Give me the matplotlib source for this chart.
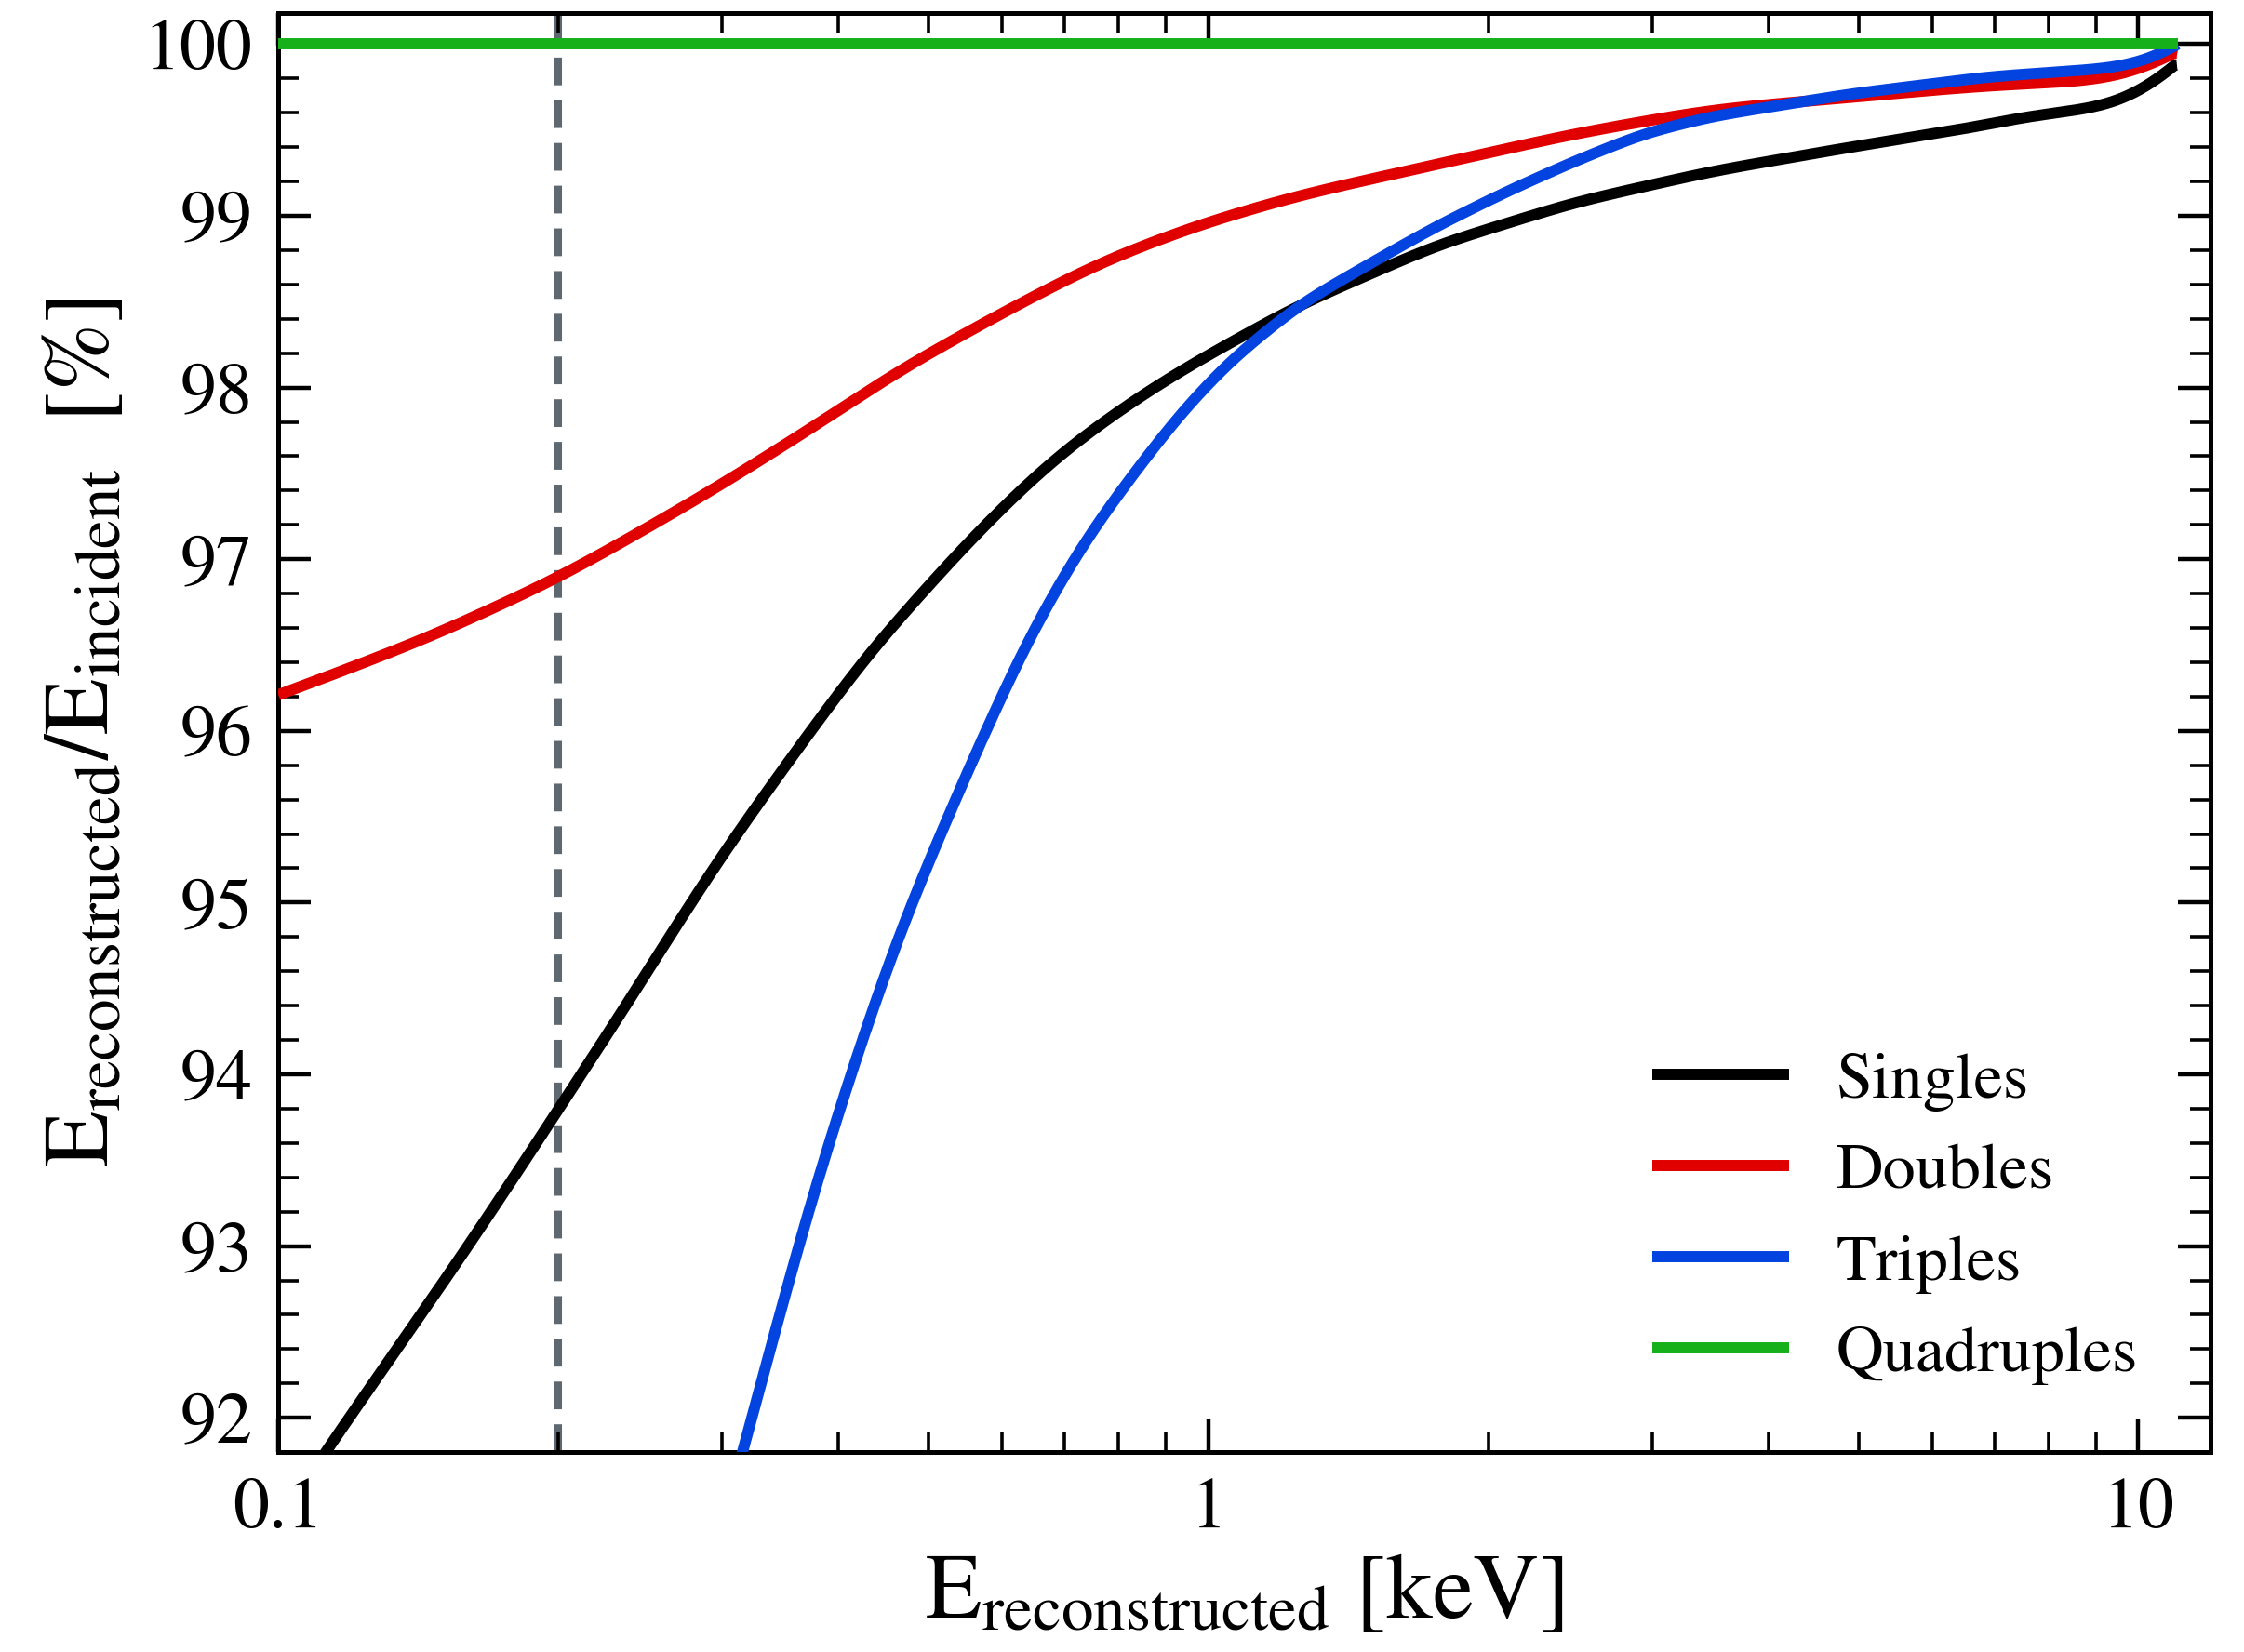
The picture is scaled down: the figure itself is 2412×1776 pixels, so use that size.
import numpy as np
import matplotlib
matplotlib.use("Agg")
import matplotlib.pyplot as plt
from matplotlib.ticker import MultipleLocator, FixedLocator, FixedFormatter, LogLocator, NullFormatter

plt.rcParams['font.family'] = ['STIXGeneral', 'Liberation Serif', 'DejaVu Serif']
plt.rcParams['mathtext.fontset'] = 'stix'

# ---- data ----
singles_x = [0.108, 0.1126, 0.1324, 0.1555, 0.1813, 0.2003, 0.2327, 0.283, 0.31, 0.37, 0.4335,
             0.501, 0.5537, 0.6406, 0.7026, 0.8035, 0.885, 0.977, 1.25, 1.76, 2.48, 3.48, 4.9,
             6.9, 7.36, 9.36, 10.35, 11.0]
singles_y = [91.66, 91.81, 92.355, 92.90, 93.44, 93.80, 94.34, 95.07, 95.39, 95.97, 96.47,
             96.85, 97.11, 97.45, 97.64, 97.87, 98.02, 98.16, 98.48, 98.83, 99.08, 99.26, 99.40,
             99.53, 99.57, 99.64, 99.75, 99.88]

doubles_x = [0.1, 0.12, 0.1475, 0.2, 0.2362, 0.2884, 0.3687, 0.4677, 0.6072, 0.764, 0.977,
             1.25, 1.76, 2.48, 3.48, 4.9, 6.9, 9.36, 10.35, 11.04]
doubles_y = [96.21, 96.37, 96.56, 96.89, 97.11, 97.38, 97.74, 98.11, 98.45, 98.73, 98.95,
             99.12, 99.30, 99.48, 99.62, 99.69, 99.76, 99.79, 99.86, 99.95]

triples_x = [0.312, 0.3548, 0.3701, 0.3877, 0.4074, 0.4285, 0.4519, 0.4786, 0.5453, 0.5843,
             0.6237, 0.6761, 0.7413, 0.8286, 0.9333, 1.057, 1.25, 1.49, 1.76, 2.09, 2.48, 2.94,
             3.48, 4.9, 6.9, 9.36, 10.35, 11.04]
triples_y = [91.70, 92.82, 93.18, 93.54, 93.91, 94.27, 94.63, 94.99, 95.71, 96.07,
             96.41, 96.77, 97.13, 97.49, 97.85, 98.16, 98.48, 98.72, 98.94, 99.14, 99.32, 99.48,
             99.58, 99.71, 99.81, 99.86, 99.91, 100.0]

quad_x = [0.1, 11.04]
quad_y = [100.0, 100.0]

threshold_x = 0.2

series = [
    ("Singles", singles_x, singles_y, "#000000"),
    ("Doubles", doubles_x, doubles_y, "#e00000"),
    ("Triples", triples_x, triples_y, "#0343df"),
    ("Quadruples", quad_x, quad_y, "#15b01a"),
]

y_ticks = [92, 93, 94, 95, 96, 97, 98, 99, 100]
x_ticks = [0.1, 1, 10]
x_ticklabels = ["0.1", "1", "10"]

fig = plt.figure(figsize=(12.06, 8.88), dpi=200)
ax = fig.add_axes([0.124, 0.121, 0.861, 0.871])

ax.axvline(threshold_x, color="#5d6870", lw=2.9, ls=(0, (3.7, 2.0)), zorder=1)

def smooth(xs, ys, step=0.002, sigma=0.03):
    """Linear interpolation of the read points in log10(x), then a Gaussian smoothing."""
    lx = np.log10(np.asarray(xs, float))
    ly = np.asarray(ys, float)
    t = np.arange(lx[0], lx[-1] + step / 2, step)
    yi = np.interp(t, lx, ly)
    npad = int(4 * sigma / step)
    s0 = (ly[1] - ly[0]) / (lx[1] - lx[0])
    s1 = (ly[-1] - ly[-2]) / (lx[-1] - lx[-2])
    left = yi[0] - s0 * step * np.arange(npad, 0, -1)
    right = yi[-1] + s1 * step * np.arange(1, npad + 1)
    ypad = np.concatenate([left, yi, right])
    k = np.arange(-npad, npad + 1) * step
    w = np.exp(-0.5 * (k / sigma) ** 2); w /= w.sum()
    ys_ = np.convolve(ypad, w, mode="same")[npad:npad + len(t)]
    ys_[-1] = ly[-1]
    return 10 ** t, ys_

sigmas = {"Singles": 0.03, "Doubles": 0.04, "Triples": 0.022}

for name, xs, ys, c in series:
    if len(xs) > 2:
        sx, sy = smooth(xs, ys, sigma=sigmas[name])
    else:
        sx, sy = xs, ys
    ax.plot(sx, sy, color=c, lw=4.3, label=name, solid_capstyle='butt', zorder=3)

ax.set_xscale("log")
ax.set_xlim(0.1, 11.95)
ax.set_ylim(91.8, 100.18)

ax.xaxis.set_major_locator(FixedLocator(x_ticks))
ax.xaxis.set_major_formatter(FixedFormatter(x_ticklabels))
ax.xaxis.set_minor_locator(LogLocator(base=10, subs=np.arange(2, 10)))
ax.xaxis.set_minor_formatter(NullFormatter())
ax.yaxis.set_major_locator(FixedLocator(y_ticks))
ax.yaxis.set_major_formatter(FixedFormatter([str(v) for v in y_ticks]))
ax.yaxis.set_minor_locator(MultipleLocator(0.2))

ax.tick_params(which="both", direction="in", top=True, right=True)
ax.tick_params(which="major", length=12.5, width=1.6, labelsize=28, pad=10)
ax.tick_params(which="minor", length=8, width=1.3)
for sp in ax.spines.values():
    sp.set_linewidth(1.8)

ax.set_xlabel(r"$\mathrm{E_{reconstructed}}$ [keV]", fontsize=35.5, labelpad=4)
ax.set_ylabel(r"$\mathrm{E_{reconstructed}/E_{incident}}\ \ [\%]$", fontsize=35.5, labelpad=6)

leg = ax.legend(loc="lower right", frameon=False, fontsize=25.3, handlelength=2.1,
                handletextpad=0.72, labelspacing=0.48, bbox_to_anchor=(0.993, 0.006))

fig.savefig("out.png", dpi=200)
